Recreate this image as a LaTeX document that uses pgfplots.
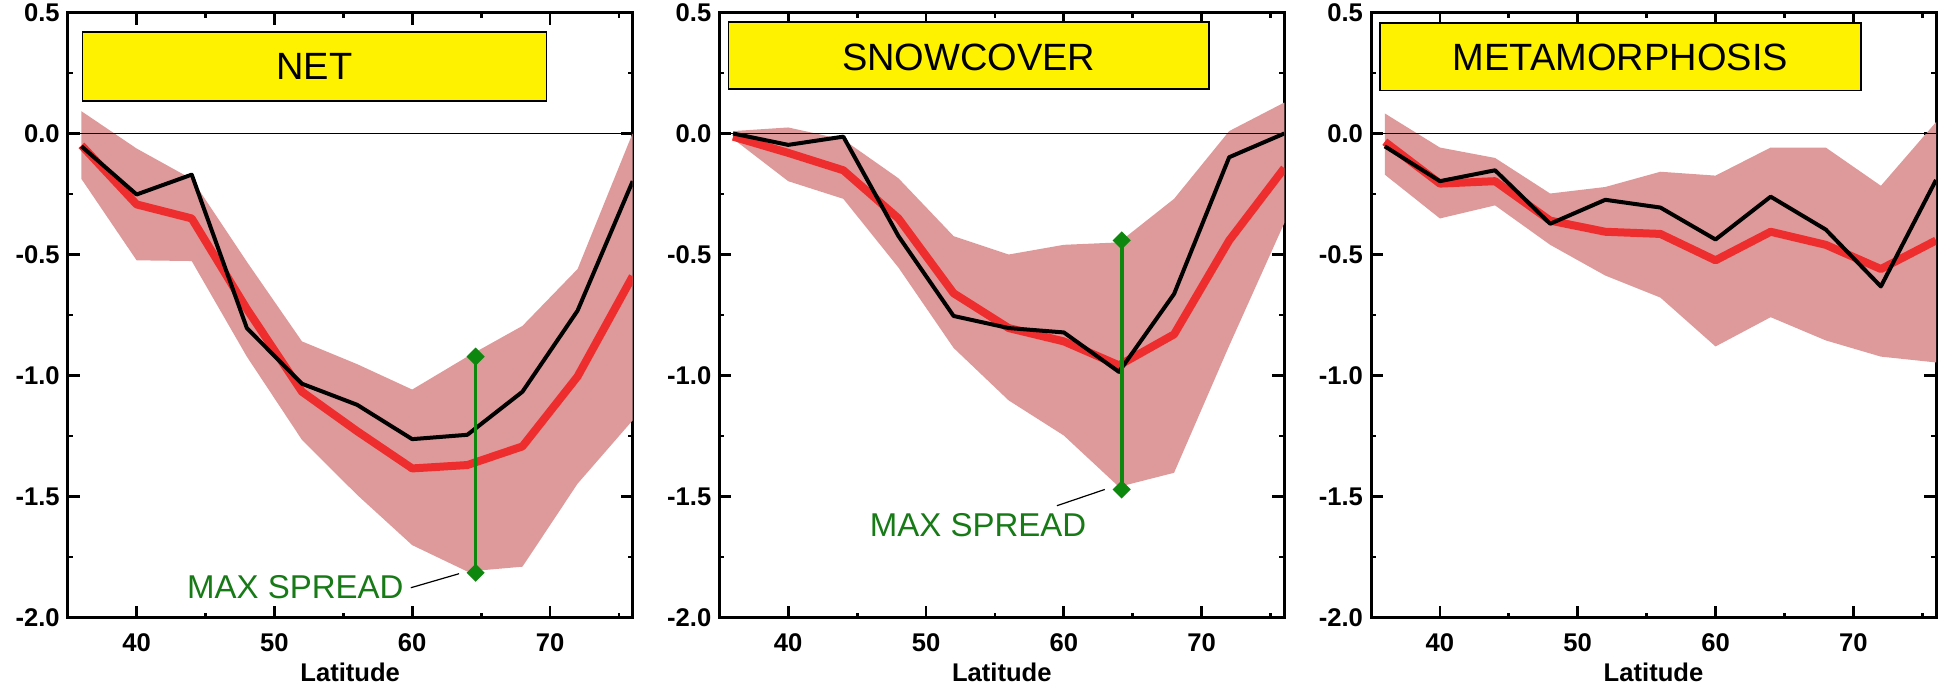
\documentclass[border=0pt]{standalone}
\usepackage{fontspec}
\setmainfont{Liberation Sans}
\usepackage{pgfplots}
\pgfplotsset{compat=1.18}
\usepgfplotslibrary{fillbetween}
\definecolor{bandc}{HTML}{DE9A9A}
\definecolor{redline}{HTML}{EE2E2E}
\definecolor{spread}{HTML}{0E870E}
\definecolor{spreadtxt}{HTML}{177A17}

% net / snowcover / metamorphosis: lat, upper, lower, mean (red), reference (black)
\pgfplotsset{
  panel/.style={
    scale only axis, width=282.5pt, height=302.5pt,
    xmin=35, xmax=76, ymin=-2, ymax=0.5,
    xtick={40,50,60,70}, xticklabels={40,50,60,70},
    ytick={-2,-1.5,-1,-0.5,0,0.5},
    yticklabels={-2.0,-1.5,-1.0,-0.5,0.0,0.5},
    minor xtick={45,55,65,75},
    minor ytick={-1.75,-1.25,-0.75,-0.25,0.25},
    major tick length=6pt, minor tick length=2.5pt,
    axis line style={line width=1.5pt}, every tick/.style={black, line width=1.4pt},
    tick label style={font=\fontsize{12.8}{15}\bfseries\selectfont},
    xticklabel style={yshift=-4.5pt},
    yticklabel style={xshift=-0.5pt},
    xlabel={Latitude},
    xlabel style={font=\fontsize{12.8}{15}\bfseries\selectfont, at={(axis description cs:0.5,0)}, anchor=base, yshift=-32pt},
  },
  band/.style={draw=none, forget plot},
  meanline/.style={redline, line width=4pt, line join=round},
  refline/.style={black, line width=2pt, line join=round},
  spreadbar/.style={spread, line width=1.8pt, mark=square*, mark options={rotate=45, solid}, mark size=2.3pt},
}

\begin{document}
\begin{tikzpicture}

% ---------- NET ----------
\begin{axis}[panel, at={(0pt,0pt)}]
\addplot[band, name path=up] coordinates {(36,0.092) (40,-0.062) (44,-0.188) (48,-0.53) (52,-0.859) (56,-0.953) (60,-1.058) (64,-0.922) (68,-0.795) (72,-0.56) (76,0.002)};
\addplot[band, name path=lo] coordinates {(36,-0.188) (40,-0.524) (44,-0.527) (48,-0.922) (52,-1.266) (56,-1.493) (60,-1.701) (64,-1.81) (68,-1.79) (72,-1.447) (76,-1.185)};
\addplot[bandc, draw=none] fill between[of=up and lo];
\addplot[black, line width=0.8pt] coordinates {(35,0) (76,0)};
\addplot[meanline] coordinates {(36,-0.049) (40,-0.293) (44,-0.351) (48,-0.725) (52,-1.067) (56,-1.23) (60,-1.384) (64,-1.37) (68,-1.293) (72,-1.004) (76,-0.59)};
\addplot[refline] coordinates {(36,-0.053) (40,-0.252) (44,-0.17) (48,-0.804) (52,-1.034) (56,-1.121) (60,-1.263) (64,-1.245) (68,-1.067) (72,-0.732) (76,-0.197)};
\addplot[spreadbar] coordinates {(64.6,-0.922) (64.6,-1.815)};
\draw[black, line width=0.6pt] (axis cs:59.9,-1.877) -- (axis cs:63.4,-1.819);
\node[anchor=east, inner sep=0pt, text=spreadtxt, font=\fontsize{16.5}{19}\selectfont] at (axis cs:59.4,-1.873) {MAX SPREAD};
\draw[fill=yellow, line width=0.9pt] (axis cs:36.07,0.134) rectangle (axis cs:69.74,0.418);
\node[font=\fontsize{19}{22}\selectfont] at (axis cs:52.9,0.276) {NET};
\end{axis}

% ---------- SNOWCOVER ----------
\begin{axis}[panel, at={(325.8pt,0pt)}]
\addplot[band, name path=up] coordinates {(36,0.01) (40,0.025) (44,-0.025) (48,-0.185) (52,-0.424) (56,-0.5) (60,-0.46) (64,-0.45) (68,-0.27) (72,0.01) (76,0.128)};
\addplot[band, name path=lo] coordinates {(36,-0.022) (40,-0.197) (44,-0.27) (48,-0.554) (52,-0.886) (56,-1.103) (60,-1.248) (64,-1.46) (68,-1.402) (72,-0.877) (76,-0.37)};
\addplot[bandc, draw=none] fill between[of=up and lo];
\addplot[black, line width=0.8pt] coordinates {(35,0) (76,0)};
\addplot[meanline] coordinates {(36,-0.013) (40,-0.08) (44,-0.152) (48,-0.351) (52,-0.66) (56,-0.804) (60,-0.859) (64,-0.958) (68,-0.83) (72,-0.442) (76,-0.143)};
\addplot[refline] coordinates {(36,0.0) (40,-0.047) (44,-0.013) (48,-0.424) (52,-0.754) (56,-0.804) (60,-0.822) (64,-0.985) (68,-0.663) (72,-0.098) (76,0.0)};
\addplot[spreadbar] coordinates {(64.2,-0.442) (64.2,-1.471)};
\draw[black, line width=0.6pt] (axis cs:59.5,-1.538) -- (axis cs:62.97,-1.471);
\node[anchor=west, inner sep=0pt, text=spreadtxt, font=\fontsize{16.5}{19}\selectfont] at (axis cs:45.9,-1.62) {MAX SPREAD};
\draw[fill=yellow, line width=0.9pt] (axis cs:35.67,0.183) rectangle (axis cs:70.51,0.46);
\node[font=\fontsize{19}{22}\selectfont] at (axis cs:53.1,0.315) {SNOWCOVER};
\end{axis}

% ---------- METAMORPHOSIS ----------
\begin{axis}[panel, at={(651.65pt,0pt)}]
\addplot[band, name path=up] coordinates {(36,0.083) (40,-0.058) (44,-0.101) (48,-0.248) (52,-0.221) (56,-0.158) (60,-0.174) (64,-0.058) (68,-0.058) (72,-0.216) (76,0.047)};
\addplot[band, name path=lo] coordinates {(36,-0.17) (40,-0.351) (44,-0.297) (48,-0.46) (52,-0.587) (56,-0.678) (60,-0.88) (64,-0.759) (68,-0.855) (72,-0.922) (76,-0.946)};
\addplot[bandc, draw=none] fill between[of=up and lo];
\addplot[black, line width=0.8pt] coordinates {(35,0) (76,0)};
\addplot[meanline] coordinates {(36,-0.034) (40,-0.207) (44,-0.197) (48,-0.36) (52,-0.406) (56,-0.415) (60,-0.524) (64,-0.406) (68,-0.46) (72,-0.56) (76,-0.442)};
\addplot[refline] coordinates {(36,-0.053) (40,-0.197) (44,-0.152) (48,-0.373) (52,-0.274) (56,-0.306) (60,-0.438) (64,-0.261) (68,-0.397) (72,-0.632) (76,-0.192)};
\draw[fill=yellow, line width=0.9pt] (axis cs:35.68,0.178) rectangle (axis cs:70.54,0.458);
\node[font=\fontsize{19}{22}\selectfont] at (axis cs:53.1,0.313) {METAMORPHOSIS};
\end{axis}

\pgfresetboundingbox
\useasboundingbox (-33.85pt,-34.75pt) rectangle (936.65pt,308.75pt);
\end{tikzpicture}
\end{document}
